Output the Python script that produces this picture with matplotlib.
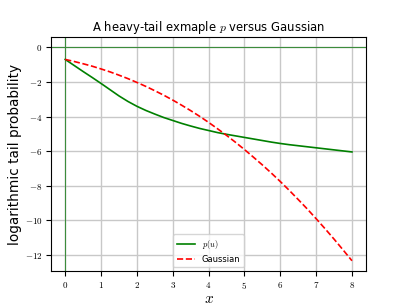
import matplotlib
matplotlib.use("Agg")
import matplotlib.pyplot as plt
from matplotlib.ticker import FuncFormatter

plt.rcParams["mathtext.fontset"] = "cm"

# --- values --------------------------------------------------------------
x_vals = [0.0, 0.25, 0.5, 0.75, 1.0, 1.25, 1.5, 1.75, 2.0, 2.25, 2.5, 2.75,
          3.0, 3.25, 3.5, 3.75, 4.0, 4.25, 4.5, 4.75, 5.0, 5.25, 5.5, 5.75,
          6.0, 6.25, 6.5, 6.75, 7.0, 7.25, 7.5, 7.75, 8.0]
heavy_tail = [-0.69, -1.04, -1.39, -1.73, -2.08, -2.44, -2.80, -3.12,
              -3.40, -3.64, -3.85, -4.05, -4.22, -4.39, -4.54, -4.68,
              -4.80, -4.92, -5.02, -5.11, -5.20, -5.29, -5.38, -5.47,
              -5.55, -5.62, -5.68, -5.74, -5.80, -5.86, -5.92, -5.98, -6.04]
gaussian = [-0.69, -0.81, -0.94, -1.08, -1.24, -1.41, -1.60, -1.80,
            -2.02, -2.25, -2.50, -2.76, -3.04, -3.34, -3.65, -3.98,
            -4.33, -4.70, -5.08, -5.48, -5.90, -6.34, -6.79, -7.26,
            -7.75, -8.26, -8.79, -9.33, -9.90, -10.48, -11.08, -11.70, -12.33]
x_ticks = [0, 1, 2, 3, 4, 5, 6, 7, 8]
y_ticks = [0, -2, -4, -6, -8, -10, -12]

fig, ax = plt.subplots(figsize=(4.07, 3.05), dpi=100)

ax.axhline(0, color="#3c8c3c", linewidth=0.8)
ax.axvline(0, color="#3c8c3c", linewidth=0.8)
ax.plot(x_vals, heavy_tail, color="green", linewidth=1.2, label="$p(u)$")
ax.plot(x_vals, gaussian, "r--", linewidth=1.2, label="Gaussian")

ax.set_xlim(-0.4, 8.4)
ax.set_ylim(-12.95, 0.63)
ax.set_xticks(x_ticks)
ax.set_yticks(y_ticks)
fmt = FuncFormatter(lambda v, _: f"${v:g}$")
ax.xaxis.set_major_formatter(fmt)
ax.yaxis.set_major_formatter(fmt)
ax.tick_params(labelsize=6.5, length=3.5, pad=2.5)
ax.grid(True, color="#c8c8c8", linewidth=1.0)
ax.set_axisbelow(True)

ax.set_title("A heavy-tail exmaple $p$ versus Gaussian", fontsize=8.4, pad=4)
ax.set_xlabel("$x$", fontsize=11, labelpad=0)
ax.set_ylabel("logarithmic tail probability", fontsize=9.8, labelpad=2)
ax.legend(loc="lower center", fontsize=6, handlelength=2.2)

fig.subplots_adjust(left=0.125, right=0.9, bottom=0.11, top=0.88)
fig.savefig("out.png", dpi=100)
plt.close(fig)
